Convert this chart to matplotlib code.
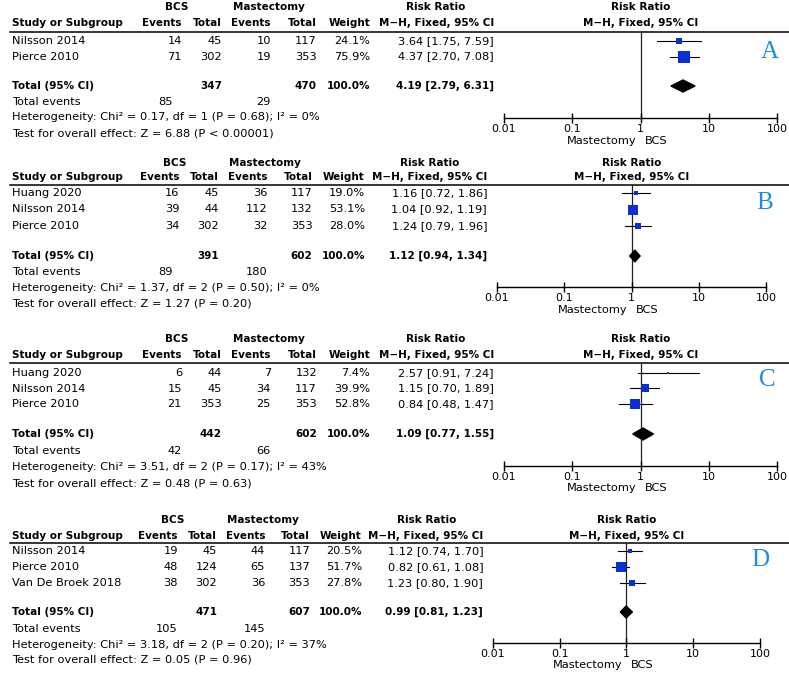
import numpy as np
import matplotlib.pyplot as plt
from matplotlib.ticker import NullLocator

plt.rcParams['font.family'] = 'DejaVu Sans'

W, H = 789, 674

# ---- data ----
studies_a = ['Nilsson 2014', 'Pierce 2010']
bcs_ev_a = [14, 71]
bcs_n_a = [45, 302]
mas_ev_a = [10, 19]
mas_n_a = [117, 353]
weight_a = [24.1, 75.9]
rr_a = [3.64, 4.37]
lo_a = [1.75, 2.70]
hi_a = [7.59, 7.08]
total_a = [347, 470, 4.19, 2.79, 6.31]
events_a = [85, 29]
het_a = ['0.17', 1, '0.68', 0]
z_a = ['6.88', '< 0.00001']

studies_b = ['Huang 2020', 'Nilsson 2014', 'Pierce 2010']
bcs_ev_b = [16, 39, 34]
bcs_n_b = [45, 44, 302]
mas_ev_b = [36, 112, 32]
mas_n_b = [117, 132, 353]
weight_b = [19.0, 53.1, 28.0]
rr_b = [1.16, 1.04, 1.24]
lo_b = [0.72, 0.92, 0.79]
hi_b = [1.86, 1.19, 1.96]
total_b = [391, 602, 1.12, 0.94, 1.34]
events_b = [89, 180]
het_b = ['1.37', 2, '0.50', 0]
z_b = ['1.27', '= 0.20']

studies_c = ['Huang 2020', 'Nilsson 2014', 'Pierce 2010']
bcs_ev_c = [6, 15, 21]
bcs_n_c = [44, 45, 353]
mas_ev_c = [7, 34, 25]
mas_n_c = [132, 117, 353]
weight_c = [7.4, 39.9, 52.8]
rr_c = [2.57, 1.15, 0.84]
lo_c = [0.91, 0.70, 0.48]
hi_c = [7.24, 1.89, 1.47]
total_c = [442, 602, 1.09, 0.77, 1.55]
events_c = [42, 66]
het_c = ['3.51', 2, '0.17', 43]
z_c = ['0.48', '= 0.63']

studies_d = ['Nilsson 2014', 'Pierce 2010', 'Van De Broek 2018']
bcs_ev_d = [19, 48, 38]
bcs_n_d = [45, 124, 302]
mas_ev_d = [44, 65, 36]
mas_n_d = [117, 137, 353]
weight_d = [20.5, 51.7, 27.8]
rr_d = [1.12, 0.82, 1.23]
lo_d = [0.74, 0.61, 0.80]
hi_d = [1.70, 1.08, 1.90]
total_d = [471, 607, 0.99, 0.81, 1.23]
events_d = [105, 145]
het_d = ['3.18', 2, '0.20', 37]
z_d = ['0.05', '= 0.96']

letters = ['A', 'B', 'C', 'D']

panels = [
    (studies_a, bcs_ev_a, bcs_n_a, mas_ev_a, mas_n_a, weight_a, rr_a, lo_a, hi_a, total_a, events_a, het_a, z_a),
    (studies_b, bcs_ev_b, bcs_n_b, mas_ev_b, mas_n_b, weight_b, rr_b, lo_b, hi_b, total_b, events_b, het_b, z_b),
    (studies_c, bcs_ev_c, bcs_n_c, mas_ev_c, mas_n_c, weight_c, rr_c, lo_c, hi_c, total_c, events_c, het_c, z_c),
    (studies_d, bcs_ev_d, bcs_n_d, mas_ev_d, mas_n_d, weight_d, rr_d, lo_d, hi_d, total_d, events_d, het_d, z_d),
]

# ---- layout (pixels) ----
layouts = [
    dict(s=1.0, h1=7, h2=23, rule=32, r0=41, dr=15.5, tot=86, te=102, het=117, test=133,
         axis=118, xl=141, te_x=173, let=(770, 52)),
    dict(s=0.986, h1=163, h2=177, rule=185, r0=193, dr=16.5, tot=256, te=272, het=288, test=304,
         axis=287, xl=310, te_x=173, let=(765, 203)),
    dict(s=1.0, h1=339, h2=355, rule=363, r0=373, dr=15.5, tot=434, te=451, het=467, test=483,
         axis=466, xl=488, te_x=182, let=(767, 380)),
    dict(s=0.978, h1=520, h2=536, rule=543, r0=551, dr=16, tot=612, te=629, het=645, test=660,
         axis=643, xl=665, te_x=178, let=(760, 560)),
]

NORM = 8.2
BOLD = 7.5
BLUE = '#0a2fd2'

fig = plt.figure(figsize=(W / 100, H / 100), dpi=100)
bg = fig.add_axes([0, 0, 1, 1])
bg.set_xlim(0, W)
bg.set_ylim(H, 0)
bg.axis('off')


def txt(x, y, s, ha='right', bold=False, **kw):
    bg.text(x, y, s, ha=ha, va='center', fontsize=BOLD if bold else NORM,
            fontweight='bold' if bold else 'normal', **kw)


for i, (p, L) in enumerate(zip(panels, layouts)):
    studies, be, bn, me, mn, wt, rr, lo, hi, tot, ev, het, z = p
    s = L['s']
    c_ev1, c_n1, c_ev2, c_n2, c_w, c_rr = [v * s for v in (182, 222, 271, 317, 370, 494)]
    x0, x1 = 504 * s, 777 * s
    xc = (x0 + x1) / 2

    # headers
    txt(177 * s, L['h1'], 'BCS', ha='center', bold=True)
    txt(269 * s, L['h1'], 'Mastectomy', ha='center', bold=True)
    txt(436 * s, L['h1'], 'Risk Ratio', ha='center', bold=True)
    txt(xc, L['h1'], 'Risk Ratio', ha='center', bold=True)
    txt(12 * s, L['h2'], 'Study or Subgroup', ha='left', bold=True)
    txt(c_ev1, L['h2'], 'Events', bold=True)
    txt(c_n1, L['h2'], 'Total', bold=True)
    txt(c_ev2, L['h2'], 'Events', bold=True)
    txt(c_n2, L['h2'], 'Total', bold=True)
    txt(c_w, L['h2'], 'Weight', bold=True)
    txt(c_rr, L['h2'], 'M\u2212H, Fixed, 95% CI', bold=True)
    txt(xc, L['h2'], 'M\u2212H, Fixed, 95% CI', ha='center', bold=True)
    bg.plot([10 * s, W], [L['rule'], L['rule']], color='black', lw=1.1)

    # study rows
    ys = [L['r0'] + k * L['dr'] for k in range(len(studies))]
    for k, y in enumerate(ys):
        txt(12 * s, y, studies[k], ha='left')
        txt(c_ev1, y, str(be[k]))
        txt(c_n1, y, str(bn[k]))
        txt(c_ev2, y, str(me[k]))
        txt(c_n2, y, str(mn[k]))
        txt(c_w, y, '%.1f%%' % wt[k])
        txt(c_rr, y, '%.2f [%.2f, %.2f]' % (rr[k], lo[k], hi[k]))

    # total rows
    txt(12 * s, L['tot'], 'Total (95% CI)', ha='left', bold=True)
    txt(c_n1, L['tot'], str(tot[0]), bold=True)
    txt(c_n2, L['tot'], str(tot[1]), bold=True)
    txt(c_w, L['tot'], '100.0%', bold=True)
    txt(c_rr, L['tot'], '%.2f [%.2f, %.2f]' % (tot[2], tot[3], tot[4]), bold=True)
    txt(12 * s, L['te'], 'Total events', ha='left')
    txt(L['te_x'], L['te'], str(ev[0]))
    txt(c_ev2, L['te'], str(ev[1]))
    txt(12 * s, L['het'], 'Heterogeneity: Chi\u00b2 = %s, df = %d (P = %s); I\u00b2 = %d%%' % tuple(het), ha='left')
    txt(12 * s, L['test'], 'Test for overall effect: Z = %s (P %s)' % tuple(z), ha='left')

    # forest plot
    fa = fig.add_axes([x0 / W, 1 - L['axis'] / H, (x1 - x0) / W, (L['axis'] - L['rule']) / H])
    fa.set_xscale('log')
    fa.set_xlim(0.01, 100)
    fa.set_ylim(L['axis'], L['rule'])
    fa.patch.set_alpha(0)
    for sp in ('top', 'left', 'right'):
        fa.spines[sp].set_visible(False)
    fa.spines['bottom'].set_linewidth(1.0)
    fa.set_xticks([0.01, 0.1, 1, 10, 100])
    fa.set_xticklabels(['0.01', '0.1', '1', '10', '100'])
    fa.xaxis.set_minor_locator(NullLocator())
    fa.set_yticks([])
    fa.tick_params(axis='x', direction='inout', length=7, width=1.0, pad=1.0, labelsize=8)
    fa.axvline(1, color='#222222', lw=0.9, zorder=1)

    for k, y in enumerate(ys):
        fa.plot([lo[k], hi[k]], [y, y], color='black', lw=0.8, zorder=2)
        side = (1.5 + 0.15 * wt[k]) * 0.72
        fa.scatter([rr[k]], [y], marker='s', s=side ** 2, color=BLUE, linewidths=0, zorder=3)

    yt = L['tot']
    fa.fill([tot[3], tot[2], tot[4], tot[2]], [yt, yt - 6, yt, yt + 6], color='black', zorder=3)

    txt(xc - 4, L['xl'], 'Mastectomy')
    txt(xc + 4, L['xl'], 'BCS', ha='left')

    lx, ly = L['let']
    bg.text(lx, ly, letters[i], ha='center', va='center', fontsize=18,
            family='Liberation Serif', color='#1e8ed8')

fig.savefig('out.png', dpi=100)
